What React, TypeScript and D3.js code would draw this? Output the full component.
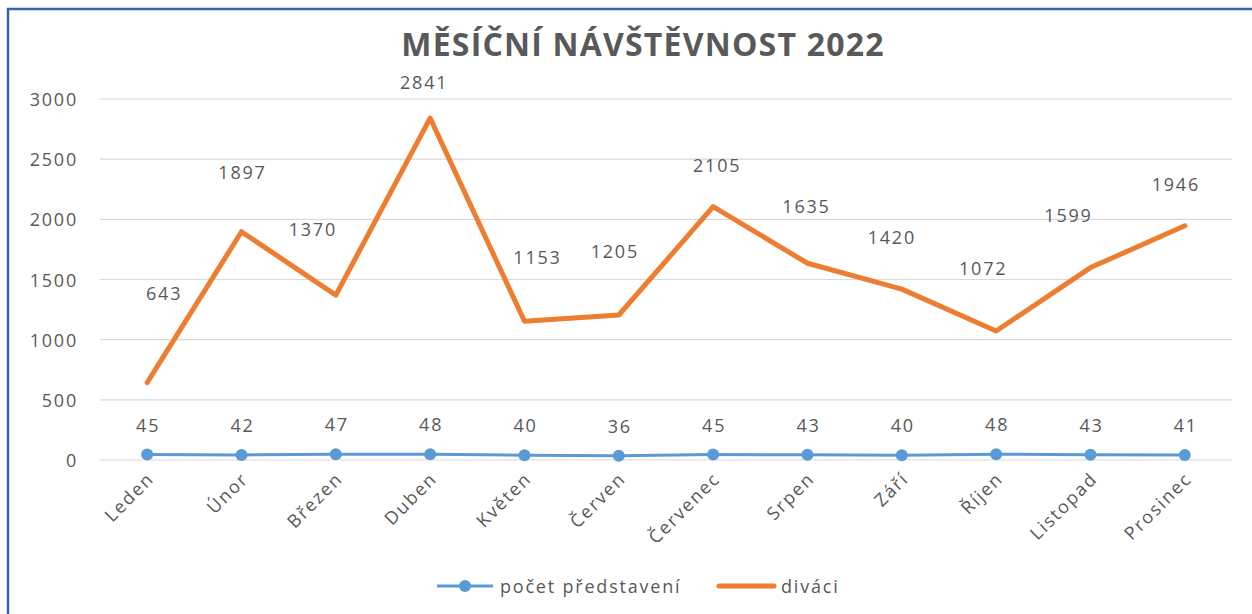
import { useEffect, useRef } from "react";
import * as d3 from "d3";

const months = ["Leden", "Únor", "Březen", "Duben", "Květen", "Červen", "Červenec", "Srpen", "Září", "Říjen", "Listopad", "Prosinec"];
const shows = [45, 42, 47, 48, 40, 36, 45, 43, 40, 48, 43, 41];
const viewers = [643, 1897, 1370, 2841, 1153, 1205, 2105, 1635, 1420, 1072, 1599, 1946];
const yTicks = [0, 500, 1000, 1500, 2000, 2500, 3000];
// manual nudges of the orange data labels (like dragged Excel labels)
const viewerLabelNudge: [number, number][] = [
  [16, -90], [0, -60], [-24, -66], [-7, -36], [12, -64], [-5, -64],
  [3, -42], [-2, -57], [-11, -52], [-14, -63], [-23, -53], [-10, -42],
];

const W = 1252;
const H = 614;
const FONT = "'Open Sans', 'DejaVu Sans', sans-serif";
const TEXT = "#595959";
const BLUE = "#5b9bd5";
const ORANGE = "#ed7d31";

export default function App() {
  const svgRef = useRef<SVGSVGElement>(null);

  useEffect(() => {
    if (!svgRef.current) return;
    const svg = d3.select(svgRef.current);
    svg.selectAll("*").remove();

    const plot = { left: 100, right: 1232, top: 99, bottom: 460 };

    svg.append("rect").attr("width", W).attr("height", H).attr("fill", "#fff");

    // frame of the embedded chart
    svg.append("path")
      .attr("d", `M8,${H} L8,9 L${W + 5},9`)
      .attr("fill", "none")
      .attr("stroke", "#3a63ad")
      .attr("stroke-width", 2.5);

    const x = d3.scaleBand<string>().domain(months).range([plot.left, plot.right]);
    const cx = (m: string) => (x(m) ?? 0) + x.bandwidth() / 2;
    const y = d3.scaleLinear().domain([0, 3000]).range([plot.bottom, plot.top]);

    const label = (sel: d3.Selection<SVGTextElement, any, any, any>) =>
      sel.attr("font-family", FONT)
        .attr("font-size", "18px")
        .attr("letter-spacing", "1.8px")
        .attr("fill", TEXT);

    // title
    svg.append("text")
      .attr("x", 643).attr("y", 56)
      .attr("text-anchor", "middle")
      .attr("font-family", FONT)
      .attr("font-weight", "bold")
      .attr("font-size", "32px")
      .attr("letter-spacing", "1.2px")
      .attr("fill", TEXT)
      .text("MĚSÍČNÍ NÁVŠTĚVNOST 2022");

    // gridlines + y labels
    const grid = svg.append("g");
    yTicks.forEach(t => {
      grid.append("line")
        .attr("x1", plot.left).attr("x2", plot.right)
        .attr("y1", y(t)).attr("y2", y(t))
        .attr("stroke", "#d9d9d9").attr("stroke-width", 1.2);
      grid.append("text")
        .attr("x", 78).attr("y", y(t) + 7)
        .attr("text-anchor", "end")
        .call(label)
        .text(t);
    });

    // x labels, rotated
    months.forEach(m => {
      svg.append("text")
        .attr("transform", `translate(${cx(m) + 8},${plot.bottom + 20}) rotate(-45)`)
        .attr("text-anchor", "end")
        .call(label)
        .text(m);
    });

    const line = d3.line<number>()
      .x((_, i) => cx(months[i]))
      .y(d => y(d));

    // diváci
    svg.append("path")
      .datum(viewers)
      .attr("fill", "none")
      .attr("stroke", ORANGE)
      .attr("stroke-width", 5)
      .attr("stroke-linejoin", "round")
      .attr("stroke-linecap", "round")
      .attr("d", line);

    // počet představení
    svg.append("path")
      .datum(shows)
      .attr("fill", "none")
      .attr("stroke", BLUE)
      .attr("stroke-width", 3)
      .attr("d", line);
    svg.selectAll("circle.show")
      .data(shows)
      .join("circle")
      .attr("class", "show")
      .attr("cx", (_, i) => cx(months[i]))
      .attr("cy", d => y(d))
      .attr("r", 6)
      .attr("fill", BLUE);

    // data labels
    svg.selectAll<SVGTextElement, number>("text.showLbl")
      .data(shows)
      .join("text")
      .attr("class", "showLbl")
      .attr("x", (_, i) => cx(months[i]) + 1)
      .attr("y", d => y(d) - 23)
      .attr("text-anchor", "middle")
      .call(label)
      .text(d => d);

    svg.selectAll<SVGTextElement, number>("text.viewLbl")
      .data(viewers)
      .join("text")
      .attr("class", "viewLbl")
      .attr("x", (_, i) => cx(months[i]) + viewerLabelNudge[i][0] + 1)
      .attr("y", (d, i) => y(d) + viewerLabelNudge[i][1] + 7)
      .attr("text-anchor", "middle")
      .call(label)
      .text(d => d);

    // legend
    const leg = svg.append("g").attr("transform", "translate(0,586)");
    leg.append("line")
      .attr("x1", 437).attr("x2", 493).attr("y1", 0).attr("y2", 0)
      .attr("stroke", BLUE).attr("stroke-width", 3);
    leg.append("circle").attr("cx", 465).attr("cy", 0).attr("r", 6).attr("fill", BLUE);
    leg.append("text")
      .attr("x", 500).attr("y", 7)
      .call(label)
      .text("počet představení");
    leg.append("line")
      .attr("x1", 719).attr("x2", 774).attr("y1", 0).attr("y2", 0)
      .attr("stroke", ORANGE).attr("stroke-width", 5)
      .attr("stroke-linecap", "round");
    leg.append("text")
      .attr("x", 781).attr("y", 7)
      .call(label)
      .text("diváci");
  }, []);

  return (
    <svg
      ref={svgRef}
      width={W}
      height={H}
      style={{ position: "absolute", left: 0, top: 0, display: "block" }}
    />
  );
}
